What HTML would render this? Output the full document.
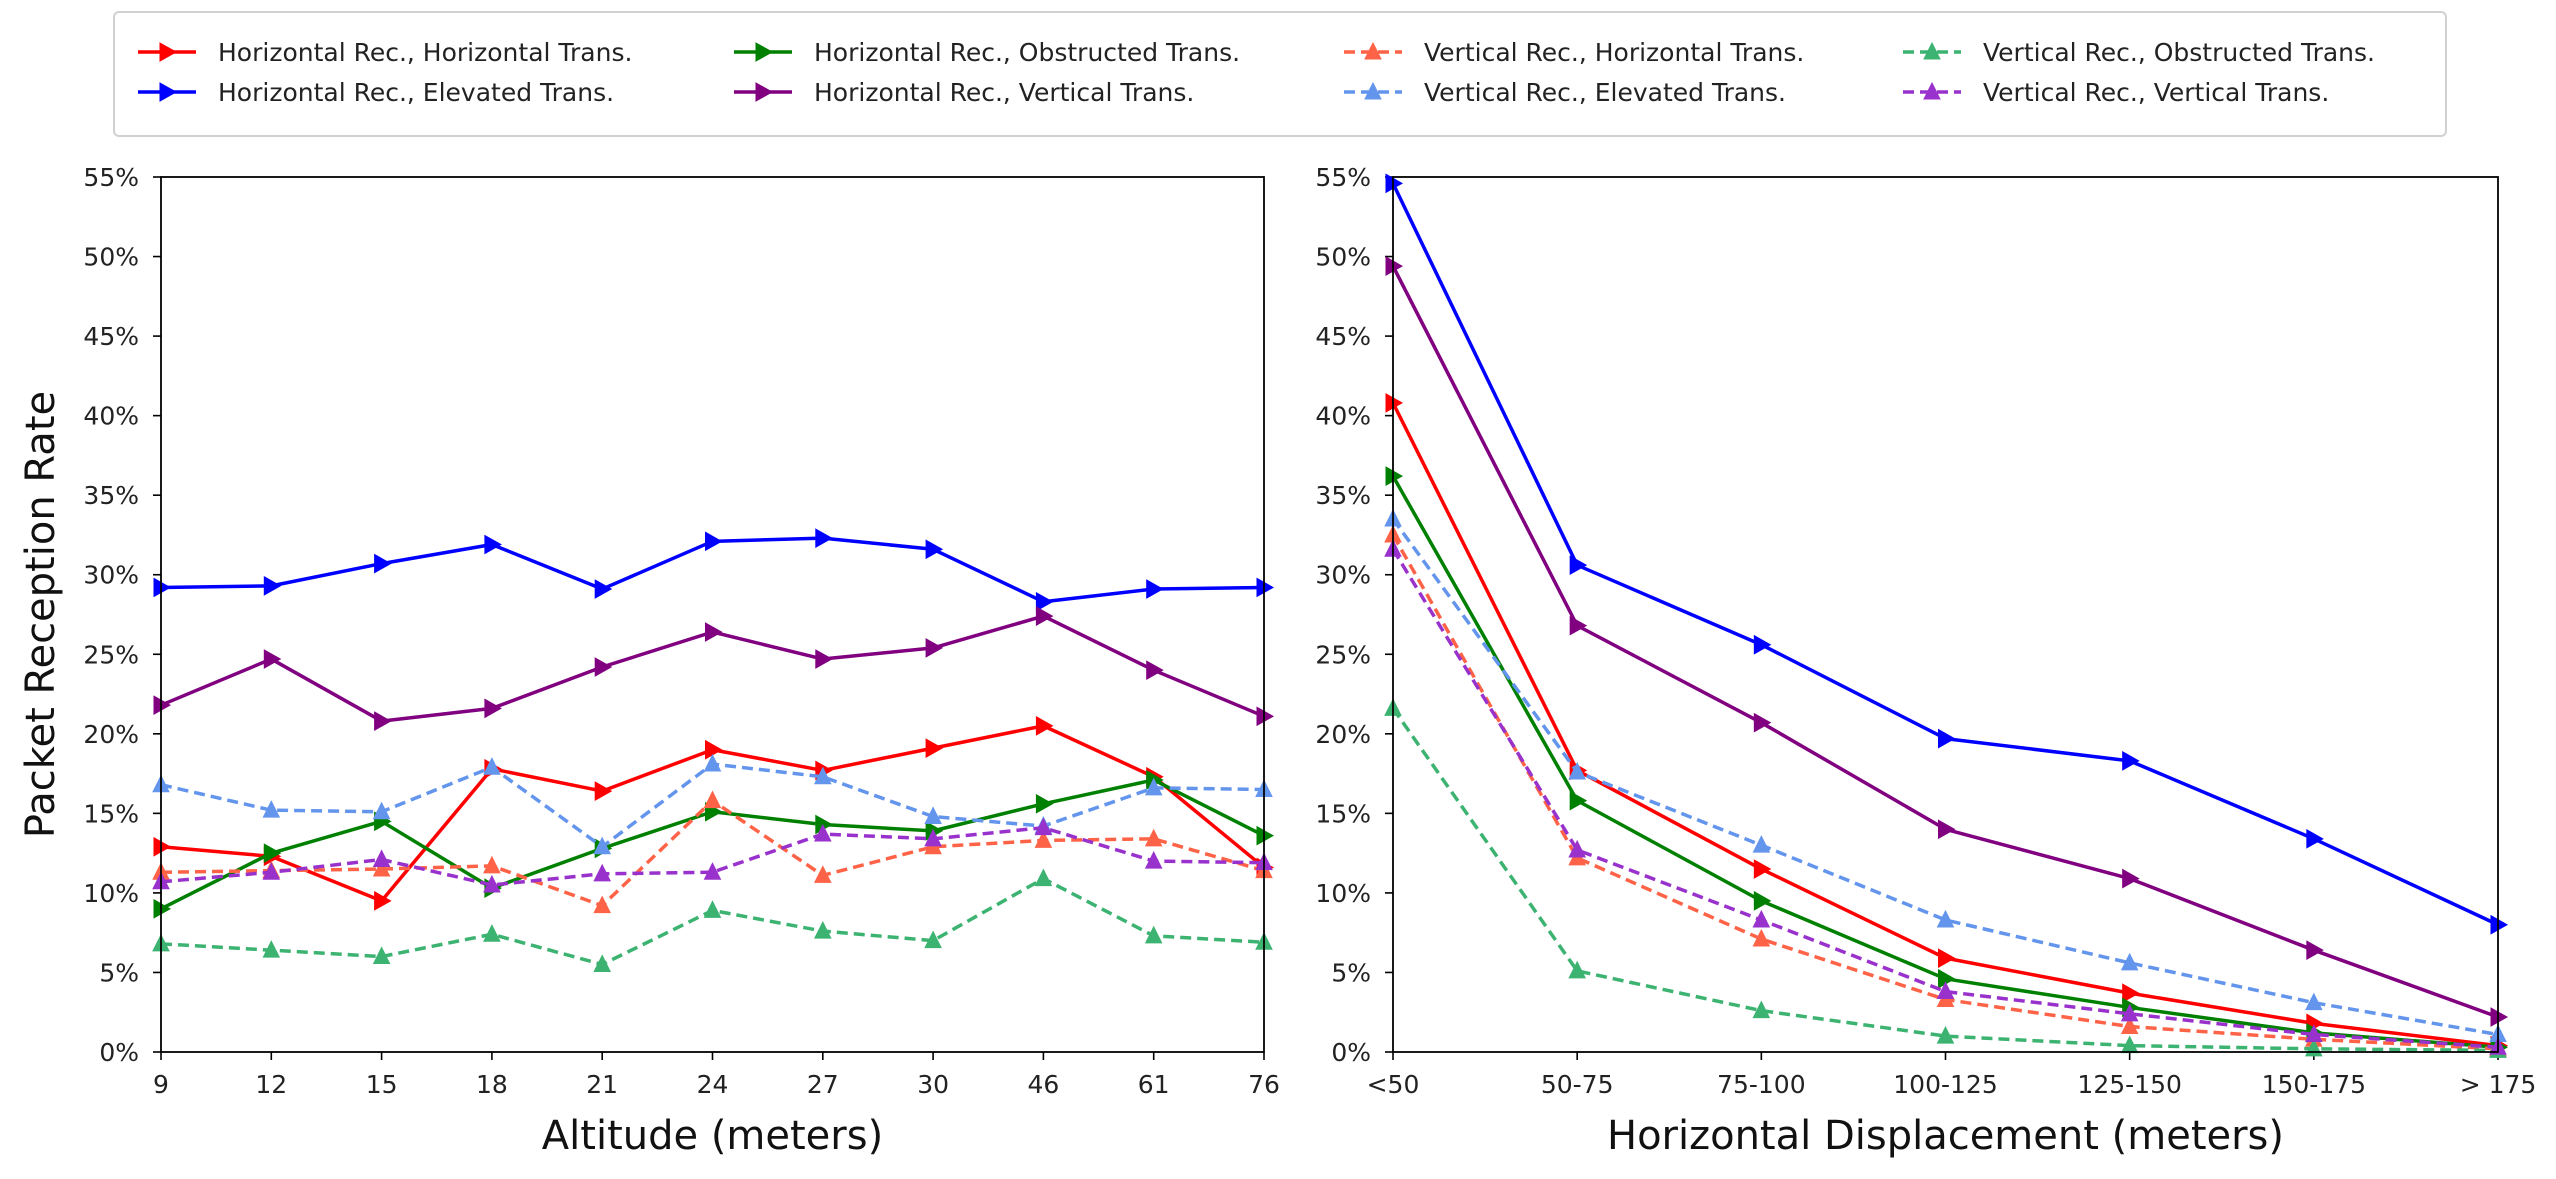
<!DOCTYPE html>
<html><head><meta charset="utf-8">
<style>
html,body{margin:0;padding:0;background:#fff;}
svg{display:block;font-family:"DejaVu Sans","Liberation Sans",sans-serif;}
</style></head>
<body>
<svg id="chart" width="2556" height="1179" viewBox="0 0 2556 1179" xmlns="http://www.w3.org/2000/svg">
<g id="legend"></g>
<g id="left"></g>
<g id="right"></g>
</svg>
<script>
const altCats = ["9","12","15","18","21","24","27","30","46","61","76"];
const dispCats = ["<50","50-75","75-100","100-125","125-150","150-175","> 175"];
const yTicks = [0,5,10,15,20,25,30,35,40,45,50,55];
const seriesNames = ["Horizontal Rec., Horizontal Trans.","Horizontal Rec., Elevated Trans.","Horizontal Rec., Obstructed Trans.","Horizontal Rec., Vertical Trans.","Vertical Rec., Horizontal Trans.","Vertical Rec., Elevated Trans.","Vertical Rec., Obstructed Trans.","Vertical Rec., Vertical Trans."];
// Altitude panel values (%)
const altHH = [12.9,12.3,9.5,17.8,16.4,19.0,17.7,19.1,20.5,17.3,11.6];
const altHE = [29.2,29.3,30.7,31.9,29.1,32.1,32.3,31.6,28.3,29.1,29.2];
const altHO = [9.0,12.5,14.5,10.3,12.8,15.1,14.3,13.9,15.6,17.1,13.6];
const altHV = [21.8,24.7,20.8,21.6,24.2,26.4,24.7,25.4,27.4,24.0,21.1];
const altVH = [11.3,11.4,11.5,11.7,9.2,15.8,11.1,12.9,13.3,13.4,11.4];
const altVE = [16.8,15.2,15.1,17.9,12.9,18.1,17.3,14.8,14.2,16.6,16.5];
const altVO = [6.8,6.4,6.0,7.4,5.5,8.9,7.6,7.0,10.9,7.3,6.9];
const altVV = [10.7,11.3,12.1,10.5,11.2,11.3,13.7,13.4,14.1,12.0,11.9];
// Displacement panel values (%)
const dispHH = [40.8,17.7,11.5,5.9,3.7,1.8,0.4];
const dispHE = [54.6,30.6,25.6,19.7,18.3,13.4,8.0];
const dispHO = [36.2,15.8,9.5,4.6,2.8,1.2,0.3];
const dispHV = [49.4,26.8,20.7,14.0,10.9,6.4,2.2];
const dispVH = [32.5,12.2,7.1,3.3,1.6,0.8,0.2];
const dispVE = [33.5,17.6,13.0,8.3,5.6,3.1,1.1];
const dispVO = [21.6,5.1,2.6,1.0,0.4,0.2,0.1];
const dispVV = [31.6,12.7,8.3,3.8,2.4,1.1,0.3];

const NS="http://www.w3.org/2000/svg";
const colors=["#ff0000","#0000ff","#008000","#800080","#ff6347","#6495ed","#3cb371","#9932cc"];
const dashed=[false,false,false,false,true,true,true,true];
const slugs=["hrec-htrans","hrec-etrans","hrec-otrans","hrec-vtrans","vrec-htrans","vrec-etrans","vrec-otrans","vrec-vtrans"];
function el(tag,attrs,parent){const e=document.createElementNS(NS,tag);for(const k in attrs)e.setAttribute(k,attrs[k]);parent.appendChild(e);return e;}
const Y0=1052,Y1=177;
function yScale(v){return Y0-(v/55)*(Y0-Y1);}
function marker(kind,x,y,c,g){
  let pts;
  if(kind==="right") pts=[[x-7,y-9],[x+9,y],[x-7,y+9]];
  else pts=[[x-8,y+7],[x,y-9],[x+8,y+7]];
  const p=el("polygon",{points:pts.map(q=>q.join(",")).join(" "),fill:c,stroke:c,"stroke-width":1},g);
  
  
}
function panel(gid,x0,x1,cats,data,xTitle,showYTitle){
  const g=document.getElementById(gid);
  const n=cats.length;
  const xs=i=>x0+(x1-x0)*i/(n-1);
  yTicks.forEach(t=>{
    const y=yScale(t);
    el("line",{x1:x0-8,x2:x0,y1:y,y2:y,stroke:"#000","stroke-width":1.6},g);
    const tx=el("text",{x:x0-22,y:y+9,"text-anchor":"end","font-size":25,fill:"#222"},g);
    tx.textContent=t+"%";
    
    
  });
  cats.forEach((c,i)=>{
    const x=xs(i);
    el("line",{x1:x,x2:x,y1:Y0,y2:Y0+8,stroke:"#000","stroke-width":1.6},g);
    const tx=el("text",{x:x,y:Y0+41,"text-anchor":"middle","font-size":25,fill:"#222"},g);
    tx.textContent=c;
    
    
  });
  data.forEach((arr,si)=>{
    const sg=el("g",{},g);
    
    
    const pts=arr.map((v,i)=>xs(i)+","+yScale(v)).join(" ");
    const a={points:pts,fill:"none",stroke:colors[si],"stroke-width":3.5,"stroke-linejoin":"round"};
    if(dashed[si]) a["stroke-dasharray"]="11,6";
    const pl=el("polyline",a,sg);
    
    
    arr.forEach((v,i)=>marker(dashed[si]?"up":"right",xs(i),yScale(v),colors[si],sg));
  });
  const fr=el("rect",{x:x0,y:Y1,width:x1-x0,height:Y0-Y1,fill:"none",stroke:"#000","stroke-width":1.8},g);
  
  
  const xt=el("text",{x:(x0+x1)/2,y:1149,"text-anchor":"middle","font-size":40,fill:"#111"},g);
  xt.textContent=xTitle;
  
  
  if(showYTitle){
    const yt=el("text",{x:0,y:0,"text-anchor":"middle","font-size":40,fill:"#111",transform:"translate(54,"+((Y0+Y1)/2)+") rotate(-90)"},g);
    yt.textContent="Packet Reception Rate";
    
    
  }
}
panel("left",161,1264,altCats,[altHH,altHE,altHO,altHV,altVH,altVE,altVO,altVV],"Altitude (meters)",true);
panel("right",1393,2498,dispCats,[dispHH,dispHE,dispHO,dispHV,dispVH,dispVE,dispVO,dispVV],"Horizontal Displacement (meters)",false);

const lg=document.getElementById("legend");
const box=el("rect",{x:114,y:12,width:2332,height:124,rx:5,fill:"#fff",stroke:"#d0d0d0","stroke-width":2},lg);


const colX=[138,734,1344,1903];
const rowY=[52,92];
const order=[[0,2,4,6],[1,3,5,7]];
order.forEach((row,ri)=>row.forEach((si,ci)=>{
  const eg=el("g",{},lg);
  
  
  const x=colX[ci],y=rowY[ri];
  const a={x1:x,x2:x+58,y1:y,y2:y,stroke:colors[si],"stroke-width":3.5};
  if(dashed[si]) a["stroke-dasharray"]="11,6";
  el("line",a,eg);
  marker(dashed[si]?"up":"right",x+29,y,colors[si],eg);
  const t=el("text",{x:x+80,y:y+9,"font-size":25,fill:"#222"},eg);
  t.textContent=seriesNames[si];
  
  
}));
</script>
</body></html>
